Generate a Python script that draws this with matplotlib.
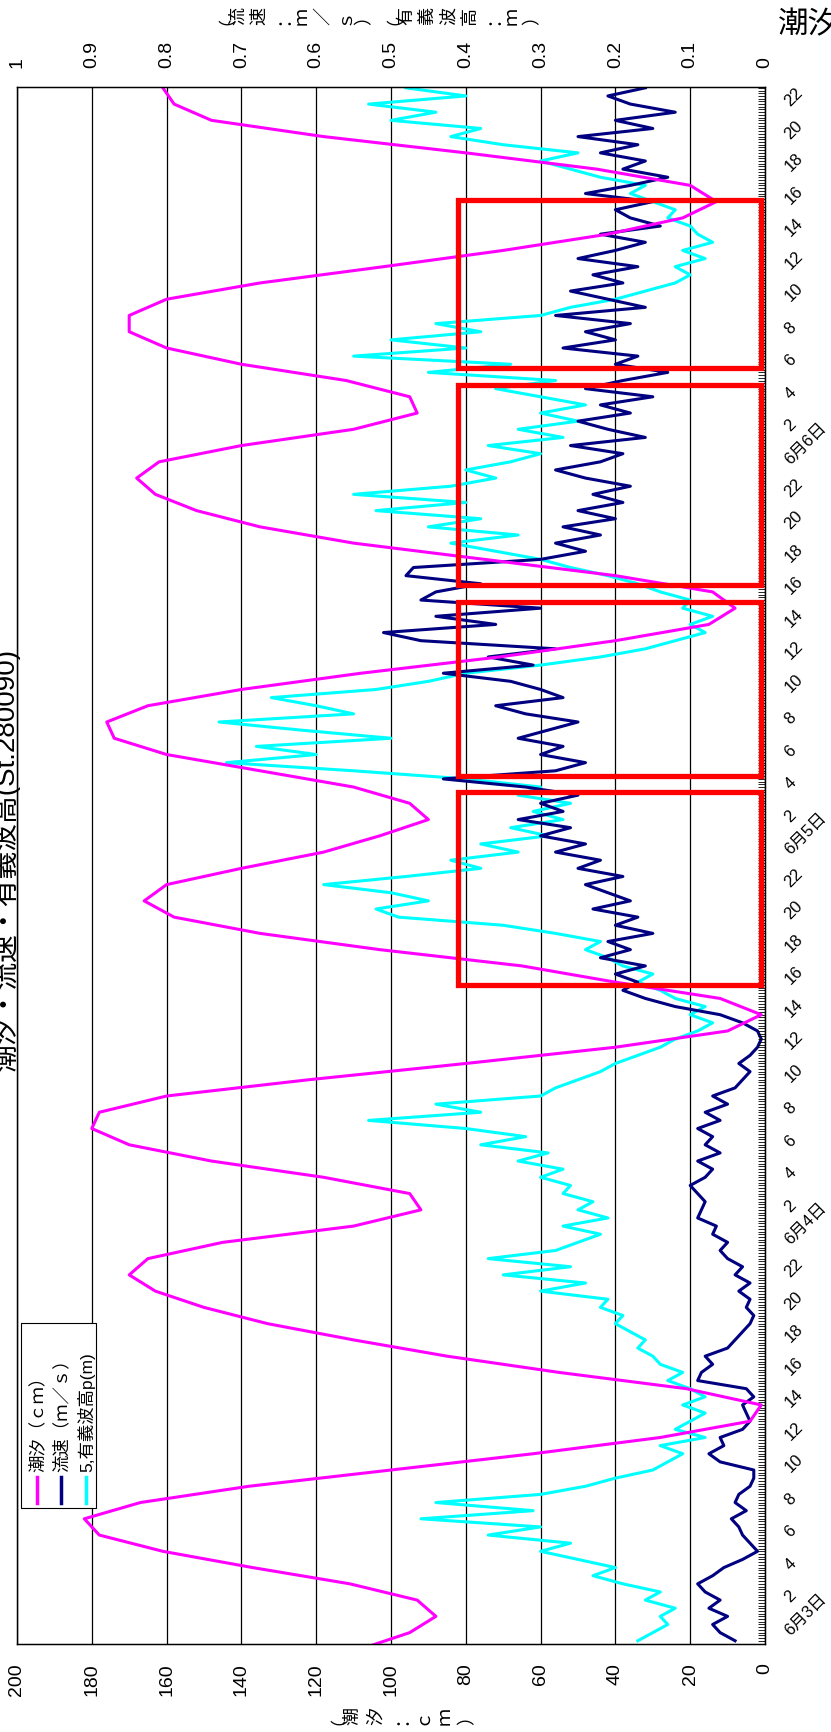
import numpy as np
import matplotlib
matplotlib.use('Agg')
import matplotlib.pyplot as plt
from matplotlib.patches import Rectangle
from matplotlib.lines import Line2D

plt.rcParams['font.family'] = ['Liberation Sans', 'Noto Sans CJK JP']

# hourly tide level (cm), hour -1 .. 95 counted from 6/3 0:00
tide_cm = [108,
           95, 88, 93, 111, 137, 161, 178, 182,
           167, 138, 100, 62, 28, 4, 1, 21,
           55, 85, 110, 133, 150, 163, 170, 165,
           145, 110, 92, 95, 118, 148, 170, 180,
           178, 160, 122, 80, 40, 10, 1, 12,
           40, 65, 103, 135, 158, 166, 160, 140,
           118, 103, 90, 95, 110, 135, 160, 174,
           176, 165, 140, 108, 71, 40, 15, 8,
           14, 40, 75, 110, 135, 152, 163, 168,
           162, 140, 110, 93, 95, 112, 140, 160,
           170, 170, 160, 135, 102, 70, 42, 22,
           13, 20, 45, 80, 118, 148, 158, 161]

# current speed (m/s) every 30 min, from -0.5 h to 95 h
speed_ms = [.04, .06, .07, .05, .075, .06, .08, .09,
            .07, .055, .03, .01, .02, .03, .035, .045,
            .025, .04, .035, .02, .015, .015, .06, .075,
            .055, .06, .03, .02, .025, .03, .015, .025,
            .09, .085, .07, .08, .05, .04, .03, .02,
            .015, .025, .02, .035, .02, .04, .03, .05,
            .06, .05, .07, .065, .09, .085, .08, .09,
            .10, .08, .07, .09, .06, .08, .07, .09,
            .06, .08, .05, .07, .04, .03, .02, .035,
            .02, .01, .005, .01, .03, .06, .12, .16,
            .19, .17, .20, .16, .22, .18, .21, .15,
            .20, .17, .23, .18, .21, .24, .19, .25,
            .22, .28, .24, .30, .26, .33, .27, .30,
            .25, .32, .43, .28, .24, .30, .27, .33,
            .29, .25, .32, .36, .27, .30, .34, .43,
            .31, .37, .28, .46, .51, .36, .44, .30,
            .46, .44, .38, .48, .47, .30, .24, .28,
            .22, .27, .20, .25, .19, .23, .18, .24,
            .28, .22, .19, .26, .16, .21, .25, .18,
            .22, .15, .24, .19, .13, .20, .17, .27,
            .20, .24, .18, .28, .16, .21, .26, .19,
            .23, .17, .25, .20, .16, .22, .14, .18,
            .20, .15, .24, .18, .13, .19, .16, .22,
            .17, .25, .15, .20, .12, .18, .21, .16]

# significant wave height (m) every 30 min, from -0.5 h to 95 h
wave_m = [.17, .15, .13, .14, .12, .16, .14, .19,
          .23, .20, .25, .30, .26, .37, .30, .46,
          .31, .44, .30, .24, .20, .15, .13, .11,
          .14, .08, .12, .10, .08, .11, .08, .10,
          .13, .11, .14, .15, .17, .16, .18, .20,
          .19, .22, .21, .30, .24, .35, .26, .37,
          .28, .25, .22, .27, .21, .25, .23, .27,
          .26, .30, .27, .33, .29, .38, .32, .40,
          .53, .38, .44, .30, .28, .25, .22, .20,
          .17, .14, .12, .09, .07, .10, .08, .12,
          .14, .17, .15, .19, .21, .24, .22, .28,
          .35, .49, .52, .45, .50, .59, .48, .38,
          .42, .33, .38, .29, .34, .27, .31, .26,
          .33, .30, .40, .55, .72, .60, .68, .50,
          .62, .73, .55, .60, .66, .52, .45, .40,
          .30, .22, .16, .12, .08, .10, .07, .11,
          .10, .14, .17, .21, .26, .30, .36, .42,
          .33, .45, .38, .52, .40, .55, .42, .36,
          .40, .34, .30, .37, .27, .33, .25, .30,
          .24, .30, .36, .28, .45, .34, .55, .40,
          .50, .38, .44, .30, .26, .20, .16, .12,
          .10, .12, .08, .11, .07, .09, .10, .13,
          .12, .15, .18, .16, .22, .26, .30, .25,
          .35, .42, .38, .50, .44, .53, .40, .48]

# highlighted periods (hours from 6/3 0:00)
box_start = [39.8, 52.7, 64.4, 77.8]
box_end = [51.7, 63.4, 76.7, 88.1]

tide_h = np.arange(-1, 96)
half_h = np.arange(-0.5, 95.01, 0.5)

W, H = 831, 1732
fig = plt.figure(figsize=(W / 100, H / 100), dpi=100)

def fx(px):
    return px / W

def fy(py):
    return 1 - py / H

L, R, T, B = 17, 765, 87, 1644
ax = fig.add_axes([fx(L), fy(B), fx(R - L), (B - T) / H])
ax2 = ax.twiny()
ax2.set_zorder(1)
ax.set_zorder(2)
ax.patch.set_visible(False)
ax2.set_facecolor('#c0c0c0')

# right-hand scale: speed and wave height
ax2.set_xlim(1, 0)
ax2.set_xticks(np.arange(0, 1.01, 0.1))
ax2.set_xticklabels(['0', '0.1', '0.2', '0.3', '0.4', '0.5', '0.6', '0.7', '0.8', '0.9', '1'])
ax2.tick_params(axis='x', length=0, pad=14, labelsize=14, labelrotation=90)
ax2.grid(axis='x', color='black', lw=0.9)
ax2.plot(wave_m, half_h, color='#00ffff', lw=2.2)
ax2.plot(speed_ms, half_h, color='#000080', lw=2.2)
ax2.tick_params(axis='y', which='both', left=False, right=False,
                labelleft=False, labelright=False)

# tide scale
ax.set_xlim(200, 0)
ax.set_xticks(range(0, 201, 20))
ax.tick_params(axis='x', length=0, pad=14, labelsize=14, labelrotation=90)
ax.plot(tide_cm, tide_h, color='#ff00ff', lw=2.2)

for s, e in zip(box_start, box_end):
    ax.add_patch(Rectangle((1.0, s), 81.0, e - s, fill=False, ec='#ff0000', lw=3.8, zorder=5))

ax.set_ylim(-0.7, 95.05)
tick_h = list(range(0, 96, 2))
tick_lab = ['6月%d日' % (3 + h // 24) if h % 24 == 0 else str(h % 24) for h in tick_h]
ax.yaxis.set_ticks_position('right')
ax.set_yticks(tick_h)
ax.set_yticklabels(tick_lab, rotation=45, ha='left', va='center', rotation_mode='anchor')
ax.set_yticks(np.arange(-0.5, 95.05, 1 / 6), minor=True)
ax.tick_params(axis='y', which='both', direction='in', length=5, width=0.6,
               pad=16, labelsize=12)

for sp in ax.spines.values():
    sp.set_color('black')
    sp.set_linewidth(1)

# axis titles, one glyph per step
def stacked(chars, x0, step, y, size):
    for i, c in enumerate(chars):
        fig.text(fx(x0 + i * step), fy(y), c, rotation=90, ha='center', va='center',
                 fontsize=size)

stacked('（潮汐：ｃｍ）', 330, 23, 1716, 13)
stacked('（流速：ｍ／ｓ）（有義波高：ｍ）', 218, 21, 16, 13)

fig.text(fx(5), fy(860), '潮汐・流速・有義波高(St.280090)', rotation=90,
         ha='center', va='center', fontsize=20)
fig.text(fx(778), fy(24), '潮汐・流速・有義波高', ha='left', va='center', fontsize=22)

# legend box
fig.patches.append(Rectangle((fx(21), fy(1508)), fx(75), 185 / H, transform=fig.transFigure,
                             fc='white', ec='black', lw=0.8, zorder=10))
leg = [('潮汐（ｃｍ）', '#ff00ff', 37), ('流速（ｍ／ｓ）', '#000080', 61),
       ('5,有義波高p(m)', '#00ffff', 86)]
for txt, col, xp in leg:
    fig.lines.append(Line2D([fx(xp), fx(xp)], [fy(1503), fy(1477)], transform=fig.transFigure,
                            color=col, lw=2.5, zorder=11))
    fig.text(fx(xp), fy(1472), txt, rotation=90, ha='center', va='bottom', fontsize=12.5,
             zorder=11)

fig.savefig('out.png', dpi=100)
